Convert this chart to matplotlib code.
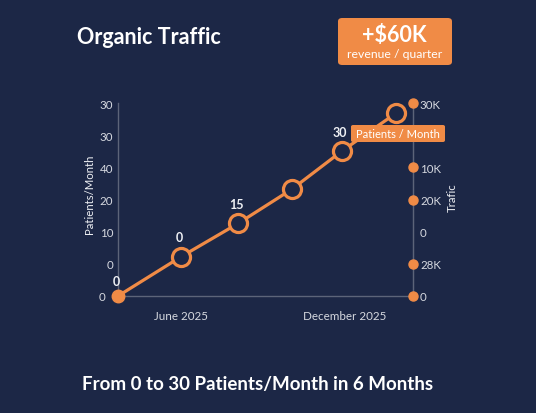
import matplotlib
matplotlib.use("Agg")
import matplotlib.pyplot as plt
import matplotlib.transforms as mtransforms
from matplotlib.patches import FancyBboxPatch

plt.rcParams['font.family'] = ['Lato', 'DejaVu Sans']

# ---- data ----
x_vals = [0, 1.0, 1.91, 2.76, 3.55, 4.41]
patients = [0, 6.1, 11.3, 16.6, 22.5, 28.4]
point_labels = {0: "0", 1: "0", 2: "15", 4: "30"}
left_ticks = [0, 5, 10, 15, 20, 25, 30]
left_labels = ["0", "0", "10", "20", "40", "30", "30"]
right_labels = ["0", "28K", "0", "20K", "10K", "", "30K"]
right_dots = [0, 5, 15, 20, 25, 30]
x_ticks = [1.0, 3.6]
x_tick_labels = ["June 2025", "December 2025"]

BG = "#1c2746"
ORANGE = "#f08b46"
GRID = "#5c6479"
TXT = "#d6d9e0"

W, H = 536, 414
fig = plt.figure(figsize=(W / 100, H / 100), dpi=100, facecolor=BG)

def fx(px):
    return px / W

def fy(py):
    return 1 - py / H

ax = fig.add_axes([fx(118), fy(297), fx(413) - fx(118), fy(104) - fy(297)])
ax.set_facecolor(BG)
ax.set_xlim(0, 295 / 63)
ax.set_ylim(0, 30)

ax.spines["top"].set_visible(False)
for s in ["left", "bottom", "right"]:
    ax.spines[s].set_color(GRID)
    ax.spines[s].set_linewidth(1)

ax.set_yticks(left_ticks)
ax.set_yticklabels(left_labels)
ax.set_xticks(x_ticks)
ax.set_xticklabels(x_tick_labels)
ax.tick_params(axis="y", length=0, pad=3.5, labelsize=8.3, labelcolor=TXT)
ax.tick_params(axis="x", length=0, pad=10, labelsize=8.4, labelcolor=TXT)
# bottom-left zero label sits a bit further left in the reference
lbl0 = ax.get_yticklabels()[0]
lbl0.set_transform(lbl0.get_transform() +
                   mtransforms.ScaledTranslation(-8 / 100, 0, fig.dpi_scale_trans))

ax2 = ax.twinx()
ax2.set_ylim(0, 30)
ax2.set_yticks(left_ticks)
ax2.set_yticklabels(right_labels)
ax2.tick_params(axis="y", length=0, pad=5, labelsize=8.3, labelcolor=TXT)
for s in ["top", "left", "bottom"]:
    ax2.spines[s].set_visible(False)
ax2.spines["right"].set_color(GRID)
ax2.patch.set_visible(False)
ax2.plot([ax.get_xlim()[1]] * len(right_dots), right_dots, "o", color=ORANGE,
         markersize=6.5, clip_on=False, zorder=5)

# line
ax.plot(x_vals, patients, color=ORANGE, linewidth=2.3, zorder=3, clip_on=False)
ax.plot(x_vals[1:], patients[1:], "o", markersize=13, markerfacecolor=BG,
        markeredgecolor=ORANGE, markeredgewidth=2.3, zorder=4, clip_on=False)
ax.plot(x_vals[:1], patients[:1], "o", markersize=9, color=ORANGE, zorder=4,
        clip_on=False)

for i, lab in point_labels.items():
    dy = 10.5 if i == 0 else 14
    dx = -1.5
    ax.annotate(lab, (x_vals[i], patients[i]), xytext=(dx, dy),
                textcoords="offset points", ha="center", va="center",
                fontsize=9, fontweight="bold", color="#eef0f4", zorder=6)

# axis labels
fig.text(fx(90), fy(194), "Patients/Month", rotation=90, ha="center",
         va="center", fontsize=8.2, color="#eef0f4")
fig.text(fx(452), fy(198), "Trafic", rotation=90, ha="center",
         va="center", fontsize=8.2, color="#eef0f4")

# series label box
box = FancyBboxPatch((fx(351), fy(143)), fx(445) - fx(351), fy(126) - fy(143),
                     boxstyle="round,pad=0,rounding_size=0.004",
                     transform=fig.transFigure, facecolor=ORANGE,
                     edgecolor="none", zorder=10)
fig.add_artist(box)
fig.text(fx(398), fy(134.5), "Patients / Month", ha="center", va="center",
         fontsize=8, color="white", zorder=11)

# title
fig.text(fx(77), fy(37), "Organic Traffic", ha="left", va="center",
         fontsize=15.5, fontweight="bold", color="white")

# badge
badge = FancyBboxPatch((fx(338), fy(66)), fx(452) - fx(338), fy(19) - fy(66),
                       boxstyle="round,pad=0,rounding_size=0.008",
                       transform=fig.transFigure, facecolor=ORANGE,
                       edgecolor="none", zorder=10)
fig.add_artist(badge)
fig.text(fx(394), fy(36), "+$60K", ha="center", va="center", fontsize=15.5,
         fontweight="bold", color="white", zorder=11)
fig.text(fx(395), fy(54), "revenue / quarter", ha="center", va="center",
         fontsize=8.8, color="white", zorder=11)

# subtitle
fig.text(fx(258), fy(385), "From 0 to 30 Patients/Month in 6 Months",
         ha="center", va="center", fontsize=13.5, fontweight="bold",
         color="white")

fig.savefig("out.png", dpi=100, facecolor=BG)
